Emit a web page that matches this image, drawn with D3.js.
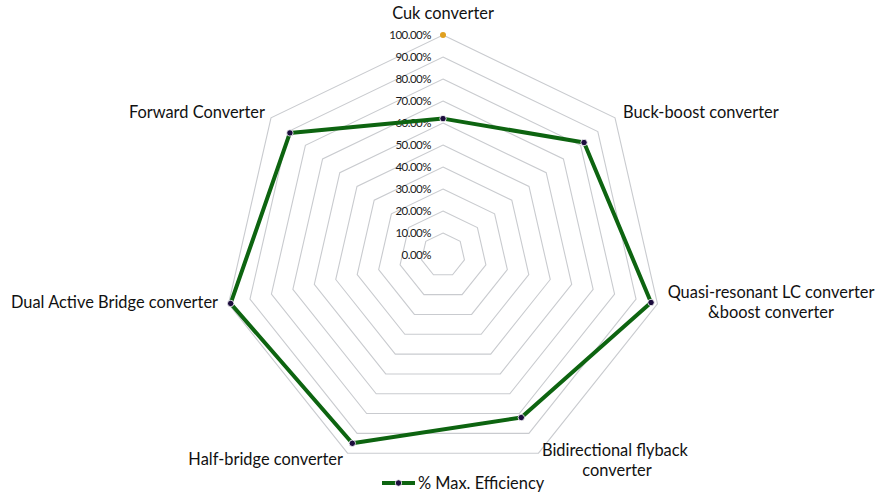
<!DOCTYPE html>
<html><head><meta charset="utf-8">
<script src="https://cdn.jsdelivr.net/npm/d3@7"></script>
<style>
html,body{margin:0;padding:0;background:#fff;}
svg{display:block;font-family:"Lato","Open Sans",sans-serif;}
</style></head>
<body><svg id="c" width="878" height="492"></svg>
<script>
const categories = ["Cuk converter","Buck-boost converter","Quasi-resonant LC converter\n&boost converter","Bidirectional flyback\nconverter","Half-bridge converter","Dual Active Bridge converter","Forward Converter"];
const efficiency = [0.62, 0.82, 0.97, 0.82, 0.95, 0.99, 0.89];
const highlight = [1.00, null, null, null, null, null, null];
const ticks = [0,0.1,0.2,0.3,0.4,0.5,0.6,0.7,0.8,0.9,1.0];
const seriesName = "% Max. Efficiency";

const svg = d3.select("#c");
const cx = 443, cy = 255, R = 220;
const r = d3.scaleLinear().domain([0,1]).range([0,R]);
const ang = d3.scaleLinear().domain([0,categories.length]).range([0,2*Math.PI]);
const pt = (i,v) => [cx + r(v)*Math.sin(ang(i)), cy - r(v)*Math.cos(ang(i))];
const idx = d3.range(categories.length);

// grid rings
const ring = d3.line().curve(d3.curveLinearClosed);
svg.append("g").selectAll("path").data(ticks.filter(t=>t>0)).join("path")
  .attr("d", t => ring(idx.map(i=>pt(i,t))))
  .attr("fill","none").attr("stroke","#c9cbcf").attr("stroke-width",1.1);

// tick labels
svg.append("g").selectAll("text").data(ticks).join("text")
  .attr("x", cx-12).attr("y", t => cy - r(t) + 4)
  .attr("text-anchor","end").attr("font-size",11.5).attr("fill","#1a1a1a")
  .attr("letter-spacing","-0.5")
  .text(t => d3.format(".2%")(t));

// category labels
const lab = [
  {dx:0, dy:-236, a:"middle"},
  {dx:180, dy:-137, a:"start"},
  {dx:328, dy:43, a:"middle"},
  {dx:99, dy:201, a:"start"},
  {dx:-100, dy:210, a:"end"},
  {dx:-225, dy:53, a:"end"},
  {dx:-178, dy:-137, a:"end"}
];
const cg = svg.append("g").attr("font-size",16.4).attr("fill","#111");
idx.forEach(i=>{
  const t = cg.append("text").attr("text-anchor",lab[i].a)
    .attr("transform",`translate(${cx+lab[i].dx},${cy+lab[i].dy})`);
  const lines = categories[i].split("\n");
  lines.forEach((s,k)=>{
    t.append("tspan").attr("x", (i===3 && k===1)? 75 : 0).attr("dy", k===0?0:20)
      .attr("text-anchor", (i===3 && k===1)?"middle":lab[i].a).text(s);
  });
});

// series
svg.append("path").attr("d", ring(idx.map(i=>pt(i,efficiency[i]))))
  .attr("fill","none").attr("stroke","#0d6410").attr("stroke-width",4).attr("stroke-linejoin","round");
svg.append("g").selectAll("circle").data(idx).join("circle")
  .attr("cx", i=>pt(i,efficiency[i])[0]).attr("cy", i=>pt(i,efficiency[i])[1])
  .attr("r",3.2).attr("fill","#1b0b3d").attr("stroke","#fff").attr("stroke-width",0.8);
svg.append("g").selectAll("circle").data(idx.filter(i=>highlight[i]!=null)).join("circle")
  .attr("cx", i=>pt(i,highlight[i])[0]).attr("cy", i=>pt(i,highlight[i])[1])
  .attr("r",3).attr("fill","#e0a020");

// legend
const lg = svg.append("g").attr("transform","translate(382,483)");
lg.append("line").attr("x1",0).attr("x2",33).attr("y1",0).attr("y2",0).attr("stroke","#0d6410").attr("stroke-width",4);
lg.append("circle").attr("cx",16.5).attr("cy",0).attr("r",3.2).attr("fill","#1b0b3d").attr("stroke","#fff").attr("stroke-width",0.8);
lg.append("text").attr("x",36).attr("y",6).attr("font-size",16.4).attr("fill","#111").text(seriesName);
</script></body></html>
